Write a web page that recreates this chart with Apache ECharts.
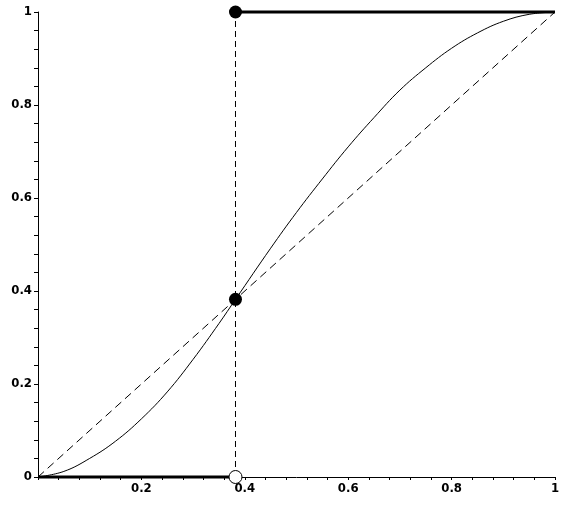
<!DOCTYPE html>
<html>
<head>
<meta charset="utf-8">
<script src="https://cdn.jsdelivr.net/npm/echarts@6/dist/echarts.min.js"></script>
<style>
html,body{margin:0;padding:0;background:#fff;}
#chart{width:580px;height:510px;}
</style>
</head>
<body>
<div id="chart"></div>
<script>
// Data
var curveX = [0, 0.05, 0.1, 0.15, 0.2, 0.25, 0.3, 0.35, 0.382, 0.45, 0.5, 0.55, 0.6, 0.65, 0.7, 0.75, 0.8, 0.85, 0.9, 0.95, 1];
var curveY = [0, 0.012, 0.040, 0.077, 0.125, 0.183, 0.253, 0.330, 0.382, 0.492, 0.569, 0.641, 0.710, 0.773, 0.832, 0.880, 0.922, 0.955, 0.980, 0.995, 1];
var diagX = [0, 1];
var diagY = [0, 1];
var fixX = 0.382;
var stepLowX = [0, 0.382];
var stepLowY = [0, 0];
var stepHighX = [0.382, 1];
var stepHighY = [1, 1];
var filledDotsX = [0.382, 0.382];
var filledDotsY = [1, 0.382];
var openDotsX = [0.382];
var openDotsY = [0];
var xTickLabels = ['', '0.2', '0.4', '0.6', '0.8', '1'];
var yTickLabels = ['0', '0.2', '0.4', '0.6', '0.8', '1'];

function zip(a, b) { return a.map(function (v, i) { return [v, b[i]]; }); }

var font = "'Liberation Sans Narrow', 'DejaVu Sans Condensed', sans-serif";
var chart = echarts.init(document.getElementById('chart'), null, {renderer: 'canvas'});
chart.setOption({
  animation: false,
  backgroundColor: '#fff',
  grid: {left: 38, right: 25, top: 12, bottom: 33, containLabel: false},
  xAxis: {
    type: 'value', min: 0, max: 1, interval: 0.2,
    axisLine: {show: true, onZero: false, lineStyle: {color: '#000', width: 1}},
    axisTick: {show: true, length: 3, inside: false, lineStyle: {color: '#000'}},
    minorTick: {show: true, splitNumber: 5, length: 3, lineStyle: {color: '#000'}},
    splitLine: {show: false},
    axisLabel: {
      margin: 5, color: '#000', fontFamily: font, fontWeight: 900, fontSize: 13,
      formatter: function (v) { return xTickLabels[Math.round(v / 0.2)]; }
    }
  },
  yAxis: {
    type: 'value', min: 0, max: 1, interval: 0.2,
    axisLine: {show: true, onZero: false, lineStyle: {color: '#000', width: 1}},
    axisTick: {show: true, length: 4, inside: false, lineStyle: {color: '#000'}},
    minorTick: {show: true, splitNumber: 5, length: 4, lineStyle: {color: '#000'}},
    splitLine: {show: false},
    axisLabel: {
      margin: 6, color: '#000', fontFamily: font, fontWeight: 900, fontSize: 13,
      formatter: function (v) { return yTickLabels[Math.round(v / 0.2)]; }
    }
  },
  series: [
    {type: 'line', data: zip(diagX, diagY), showSymbol: false, clip: false,
     lineStyle: {color: '#000', width: 1, type: [8, 5]}},
    {type: 'line', data: [[fixX, 0], [fixX, 1]], showSymbol: false, clip: false,
     lineStyle: {color: '#000', width: 1, type: [6, 4]}},
    {type: 'line', data: zip(curveX, curveY), showSymbol: false, smooth: 0.4, clip: false,
     lineStyle: {color: '#000', width: 1}},
    {type: 'line', data: zip(stepLowX, stepLowY), showSymbol: false, clip: false,
     lineStyle: {color: '#000', width: 3}},
    {type: 'line', data: zip(stepHighX, stepHighY), showSymbol: false, clip: false,
     lineStyle: {color: '#000', width: 3}},
    {type: 'scatter', data: zip(filledDotsX, filledDotsY), symbol: 'circle', symbolSize: 13, clip: false,
     itemStyle: {color: '#000', opacity: 1}, z: 5},
    {type: 'scatter', data: zip(openDotsX, openDotsY), symbol: 'circle', symbolSize: 13, clip: false,
     itemStyle: {color: '#fff', borderColor: '#000', borderWidth: 1, opacity: 1}, z: 5}
  ]
});
</script>
</body>
</html>
